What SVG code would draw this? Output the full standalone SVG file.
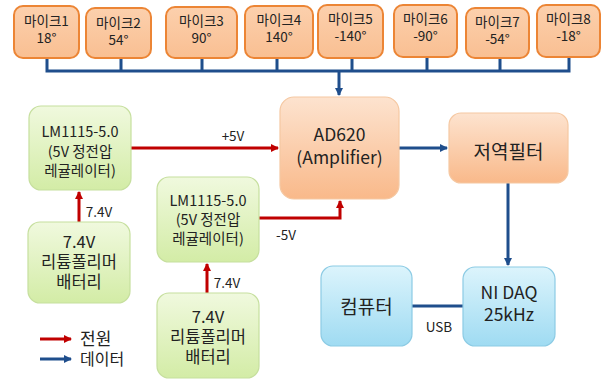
<svg xmlns="http://www.w3.org/2000/svg" width="607" height="380" viewBox="0 0 607 380">
<defs>
<linearGradient id="gMic" x1="0" y1="0" x2="0" y2="1"><stop offset="0" stop-color="#fcd0ad"/><stop offset="1" stop-color="#f9bf92"/></linearGradient>
<linearGradient id="gOr" x1="0" y1="0" x2="0" y2="1"><stop offset="0" stop-color="#fde3cf"/><stop offset="1" stop-color="#f9b98a"/></linearGradient>
<linearGradient id="gGr" x1="0" y1="0" x2="0" y2="1"><stop offset="0" stop-color="#f0f9de"/><stop offset="1" stop-color="#d3eca6"/></linearGradient>
<linearGradient id="gBl" x1="0" y1="0" x2="0" y2="1"><stop offset="0" stop-color="#dcf4fc"/><stop offset="1" stop-color="#9fdbf2"/></linearGradient>
<marker id="aR" markerWidth="8" markerHeight="8" refX="7" refY="4" orient="auto" markerUnits="userSpaceOnUse"><path d="M0,0 L8,4 L0,8 z" fill="#c00000"/></marker>
<marker id="aB" markerWidth="8" markerHeight="8" refX="7" refY="4" orient="auto" markerUnits="userSpaceOnUse"><path d="M0,0 L8,4 L0,8 z" fill="#1f4e8c"/></marker>
<style>
text{font-family:"Noto Sans CJK KR","Liberation Sans",sans-serif;fill:#222;text-anchor:middle}
.mic{fill:url(#gMic);stroke:#ec8535;stroke-width:2}
.or{fill:url(#gOr);stroke:#f5c8a2;stroke-width:1.2}
.gr{fill:url(#gGr);stroke:#c6df9e;stroke-width:1.2}
.bl{fill:url(#gBl);stroke:#8ccbe4;stroke-width:1.2}
.t14{font-size:13.5px}
.t15{font-size:14.5px}
.t16{font-size:16.5px}
.t18{font-size:17.5px}
.t19{font-size:19px}
.lb{font-size:13.5px}
.red{stroke:#c00000;stroke-width:3;fill:none}
.blu{stroke:#1f4e8c;stroke-width:3;fill:none}
</style>
</defs>
<g id="connectors">
<path class="blu" d="M47,58 V71 H569 V58 M121,58 V71 M202,58 V71 M277,58 V71 M352,58 V71 M427,58 V71 M500,58 V71"/>
<path class="blu" d="M339,71 V95" marker-end="url(#aB)"/>
<path class="blu" d="M399,148 H447" marker-end="url(#aB)"/>
<path class="blu" d="M508,183 V265" marker-end="url(#aB)"/>
<path class="blu" d="M412,306 H463"/>
<path class="red" d="M131,148 H278" marker-end="url(#aR)"/>
<path class="red" d="M259,218 H340 V201" marker-end="url(#aR)"/>
<path class="red" d="M79,222 V192" marker-end="url(#aR)"/>
<path class="red" d="M207,293 V264" marker-end="url(#aR)"/>
<path class="red" d="M40,339 H71" marker-end="url(#aR)"/>
<path class="blu" d="M40,359 H71" marker-end="url(#aB)"/>
</g>
<g id="labels">
<text class="lb" x="233" y="141">+5V</text>
<text class="lb" x="286" y="240">-5V</text>
<text class="lb" x="99" y="217" text-anchor="start">7.4V</text>
<text class="lb" x="227" y="288">7.4V</text>
<text class="lb" x="439" y="332">USB</text>
<text x="80" y="345" style="font-size:17px;text-anchor:start">전원</text>
<text x="80" y="365" style="font-size:16px;text-anchor:start">데이터</text>
</g>
<g id="mic1"><rect class="mic" x="14" y="6" width="65" height="52" rx="9"/><text class="t14" x="46.5" y="26">마이크1</text><text class="t14" x="46.5" y="43">18°</text></g>
<g id="mic2"><rect class="mic" x="86" y="8" width="65" height="50" rx="9"/><text class="t14" x="118.5" y="28">마이크2</text><text class="t14" x="118.5" y="45">54°</text></g>
<g id="mic3"><rect class="mic" x="166" y="7" width="71" height="51" rx="9"/><text class="t14" x="201.5" y="26">마이크3</text><text class="t14" x="201.5" y="43">90°</text></g>
<g id="mic4"><rect class="mic" x="245" y="6" width="68" height="52" rx="9"/><text class="t14" x="279" y="25">마이크4</text><text class="t14" x="279" y="42">140°</text></g>
<g id="mic5"><rect class="mic" x="318" y="5" width="65" height="53" rx="9"/><text class="t14" x="350.5" y="24">마이크5</text><text class="t14" x="350.5" y="41">-140°</text></g>
<g id="mic6"><rect class="mic" x="394" y="5" width="63" height="52" rx="9"/><text class="t14" x="425.5" y="24">마이크6</text><text class="t14" x="425.5" y="41">-90°</text></g>
<g id="mic7"><rect class="mic" x="466" y="8" width="63" height="50" rx="9"/><text class="t14" x="497.5" y="27">마이크7</text><text class="t14" x="497.5" y="44">-54°</text></g>
<g id="mic8"><rect class="mic" x="537" y="5" width="63" height="52" rx="9"/><text class="t14" x="568.5" y="24">마이크8</text><text class="t14" x="568.5" y="41">-18°</text></g>
<g id="ad620"><rect class="or" x="280" y="97" width="119" height="102" rx="14"/><text class="t18" x="339.5" y="141">AD620</text><text class="t18" x="339.5" y="164">(Amplifier)</text></g>
<g id="lpf"><rect class="or" x="449" y="113" width="119" height="70" rx="12"/><text class="t19" x="508.5" y="159">저역필터</text></g>
<g id="daq"><rect class="bl" x="463" y="267" width="92" height="79" rx="12"/><text class="t18" x="509" y="299">NI DAQ</text><text class="t18" x="509" y="321">25kHz</text></g>
<g id="pc"><rect class="bl" x="321" y="266" width="91" height="80" rx="12"/><text class="t19" x="366.5" y="314">컴퓨터</text></g>
<g id="reg1"><rect class="gr" x="29" y="106" width="102" height="84" rx="12"/><text class="t15" x="80" y="137">LM1115-5.0</text><text class="t15" x="80" y="157">(5V 정전압</text><text class="t15" x="80" y="176">레귤레이터)</text></g>
<g id="reg2"><rect class="gr" x="157" y="177" width="102" height="85" rx="12"/><text class="t15" x="208" y="206">LM1115-5.0</text><text class="t15" x="208" y="225">(5V 정전압</text><text class="t15" x="208" y="244">레귤레이터)</text></g>
<g id="bat1"><rect class="gr" x="28" y="222" width="102" height="81" rx="12"/><text class="t16" x="79" y="248">7.4V</text><text class="t16" x="79" y="268">리튬폴리머</text><text class="t16" x="79" y="288">배터리</text></g>
<g id="bat2"><rect class="gr" x="157" y="293" width="102" height="85" rx="12"/><text class="t16" x="208" y="323">7.4V</text><text class="t16" x="208" y="343">리튬폴리머</text><text class="t16" x="208" y="363">배터리</text></g>
</svg>
